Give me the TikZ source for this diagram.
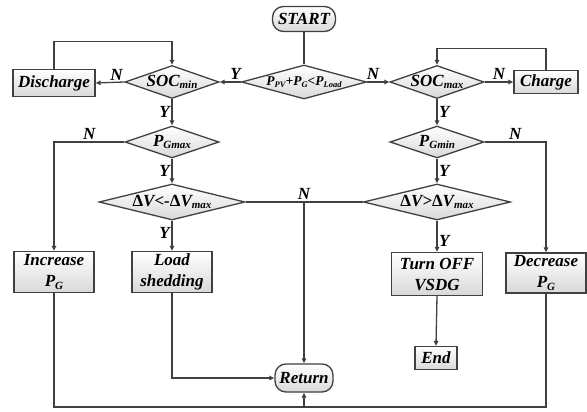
\documentclass[tikz,border=0pt]{standalone}
\usepackage{fontspec}
\setmainfont{Liberation Serif}
\usetikzlibrary{arrows.meta,positioning,shapes.geometric}
\definecolor{linegray}{HTML}{404040}
\newcommand{\lowsub}[1]{\raisebox{-0.3ex}{\fontsize{11}{11}\selectfont #1}}
\newcommand{\tinysub}[1]{\raisebox{-0.3ex}{\fontsize{8.5}{8.5}\selectfont #1}}

\tikzset{
  flow/.style={draw=linegray, line width=1.3pt, top color=white, bottom color=black!15,
    font=\bfseries\itshape\fontsize{17}{21}\selectfont, align=center, inner sep=0pt},
  procbox/.style={flow, rectangle},
  termbox/.style={flow, rectangle, rounded corners=11pt},
  decision/.style={flow, diamond, label={[yn]center:{#1}}},
  yn/.style={font=\bfseries\itshape\fontsize{17}{21}\selectfont, inner sep=1.5pt},
  conn/.style={draw=linegray, line width=1.3pt},
  arrow/.style={conn, -{Triangle[length=5pt,width=4.5pt]}},
}

\begin{document}
\begin{tikzpicture}[x=1pt, y=-1pt]
  \useasboundingbox (0,0) rectangle (587,412);

  % Terminals
  \node[termbox, minimum width=63, minimum height=25] (start) at (304,19) {START};
  \node[termbox, minimum width=58, minimum height=28] (return) at (304,378) {Return};

  % Decisions
  \node[decision={\fontsize{13.5}{16}\selectfont P\tinysub{PV}+P\tinysub{G}<P\tinysub{Load}},
    minimum width=125, minimum height=34] (load check) at (304,82) {};
  \node[decision={SOC\lowsub{min}}, minimum width=94, minimum height=33] (socmin) at (172,82) {};
  \node[decision={SOC\lowsub{max}}, minimum width=94, minimum height=33] (socmax) at (437,82) {};
  \node[decision={P\lowsub{Gmax}}, minimum width=94, minimum height=32] (pgmax) at (172,142) {};
  \node[decision={P\lowsub{Gmin}}, minimum width=94, minimum height=32] (pgmin) at (437,142) {};
  \node[decision={{\upshape Δ}V<-{\upshape Δ}V\lowsub{max}}, minimum width=146, minimum height=36] (dvlow) at (172,202) {};
  \node[decision={{\upshape Δ}V>{\upshape Δ}V\lowsub{max}}, minimum width=147, minimum height=36] (dvhigh) at (437,202) {};

  % Actions
  \node[procbox, minimum width=82, minimum height=27] (discharge) at (54,83) {Discharge};
  \node[procbox, minimum width=64, minimum height=23] (charge) at (546,82) {Charge};
  \node[procbox, minimum width=80, minimum height=41] (increase) at (54,272) {Increase\\P\lowsub{G}};
  \node[procbox, minimum width=80, minimum height=41] (shedding) at (172,272) {Load\\shedding};
  \node[procbox, minimum width=91, minimum height=43] (turnoff) at (437,274) {Turn OFF\\VSDG};
  \node[procbox, minimum width=80, minimum height=40] (decrease) at (546,273) {Decrease\\P\lowsub{G}};
  \node[procbox, minimum width=42, minimum height=23] (end) at (436,358) {End};

  \coordinate (join) at (304,202);
  \coordinate (bottom) at (304,407);

  % Connectors
  \draw[conn] (start.south) -- (load check.north);
  \draw[arrow] (load check.west) -- node[yn, above, pos=0.25] {Y} (socmin.east);
  \draw[arrow] (load check.east) -- node[yn, above, pos=0.26] {N} (socmax.west);
  \draw[arrow] (socmin.west) -- node[yn, above, pos=0.27] {N} (discharge.east);
  \draw[arrow] (socmax.east) -- node[yn, above] {N} (charge.west);
  \draw[arrow] (discharge.north) -- ++(0,-27) -| (socmin.north);
  \draw[arrow] (charge.north) -- ++(0,-21.5) -| (socmax.north);

  \draw[arrow] (socmin.south) -- node[yn, left] {Y} (pgmax.north);
  \draw[arrow] (socmax.south) -- node[yn, right] {Y} (pgmin.north);
  \draw[arrow] (pgmax.west) -| node[yn, above, pos=0.25] {N} (increase.north);
  \draw[arrow] (pgmin.east) -| node[yn, above, pos=0.25] {N} (decrease.north);
  \draw[arrow] (pgmax.south) -- node[yn, left] {Y} (dvlow.north);
  \draw[arrow] (pgmin.south) -- node[yn, right] {Y} (dvhigh.north);
  \draw[arrow] (dvlow.south) -- node[yn, left, pos=0.4] {Y} (shedding.north);
  \draw[arrow] (dvhigh.south) -- node[yn, right, pos=0.65] {Y} (turnoff.north);

  \draw[conn] (dvlow.east) -- (join);
  \draw[conn] (dvhigh.west) -- (join);
  \draw[arrow] (join) -- node[yn, above, pos=0] {N} (return.north);

  \draw[arrow] (shedding.south) |- (return.west);
  \draw[arrow] (turnoff.south) -- (end.north);
  \draw[arrow] (increase.south) |- (bottom) -- (return.south);
  \draw[conn] (decrease.south) |- (bottom);
\end{tikzpicture}
\end{document}
